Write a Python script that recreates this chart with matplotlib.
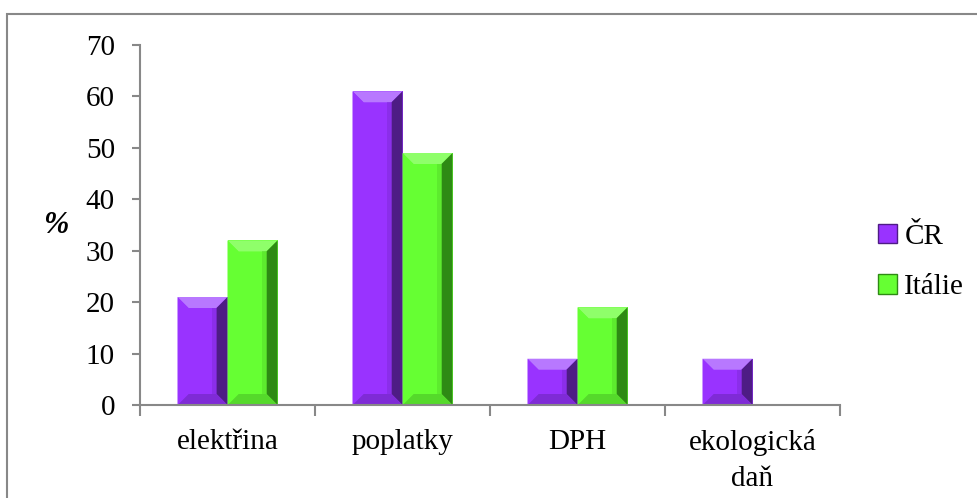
import matplotlib
matplotlib.use("Agg")
import matplotlib.pyplot as plt
from matplotlib.patches import Polygon, Patch, Rectangle
import numpy as np

categories = ["elektřina", "poplatky", "DPH", "ekologická\ndaň"]
series_names = ["ČR", "Itálie"]
cr_values = [21, 61, 9, 9]
italie_values = [32, 49, 19, 0]
yticks = [0, 10, 20, 30, 40, 50, 60, 70]

face = {"ČR": "#9933FF", "Itálie": "#66FF33"}
light = {"ČR": "#B878FF", "Itálie": "#8FFF6A"}
dark = {"ČR": "#4E1C85", "Itálie": "#2E8A14"}
mid = {"ČR": "#7F2BD6", "Itálie": "#55D92B"}

plt.rcParams['font.family'] = ['Liberation Serif', 'DejaVu Serif']

fig = plt.figure(figsize=(9.77, 4.98), dpi=100)
ax = fig.add_axes([140/977, 1-405/498, 700/977, 360/498])

x = np.arange(len(categories))
w = 50/175
bars_cr = ax.bar(x - w/2, cr_values, w, color=face["ČR"], linewidth=0, zorder=2)
bars_it = ax.bar(x + w/2, italie_values, w, color=face["Itálie"], linewidth=0, zorder=2)

ax.set_xlim(-0.5, len(categories) - 0.5)
ax.set_ylim(0, 70)
ax.set_yticks(yticks)
ax.set_yticklabels([str(v) for v in yticks], fontsize=21)
ax.set_xticks(x)
ax.set_xticklabels(categories, fontsize=21, linespacing=1.5, va='top')
ax.set_xticks(np.arange(len(categories) + 1) - 0.5, minor=True)
ax.tick_params(axis='x', which='major', length=0, pad=17)
ax.tick_params(axis='x', which='minor', length=8, color='#888888', width=1.5, direction='out')
ax.tick_params(axis='y', length=6, color='#888888', width=1.5, direction='out', pad=12)
for s in ['top', 'right']:
    ax.spines[s].set_visible(False)
for s in ['left', 'bottom']:
    ax.spines[s].set_color('#888888')
    ax.spines[s].set_linewidth(1.5)
ax.spines['bottom'].set_zorder(5)

ax.set_ylabel('%', fontsize=22, fontweight='bold', fontstyle='italic', rotation=0, labelpad=22, va='center')

fig.canvas.draw()
inv = ax.transData.inverted()

def bevel(rect, name):
    (x0, y0), (x1, y1) = ax.transData.transform([(rect.get_x(), rect.get_y()),
                                                  (rect.get_x() + rect.get_width(), rect.get_y() + rect.get_height())])
    if y1 - y0 < 2:
        return
    b = min(11, (y1 - y0) / 3, (x1 - x0) / 3)
    polys = [
        ([(x0, y1), (x1, y1), (x1 - b, y1 - b), (x0 + b, y1 - b)], light[name]),
        ([(x1, y1), (x1, y0), (x1 - b, y0 + b), (x1 - b, y1 - b)], dark[name]),
        ([(x0, y0), (x1, y0), (x1 - b, y0 + b), (x0 + b, y0 + b)], mid[name]),
        ([(x0, y0), (x0, y1), (x0 + b, y1 - b), (x0 + b, y0 + b)], face[name]),
    ]
    for pts, c in polys:
        ax.add_patch(Polygon(inv.transform(pts), closed=True, facecolor=c, edgecolor='none', zorder=3))
    strip = [(x1 - b - 5, y1 - b), (x1 - b, y1 - b), (x1 - b, y0 + b), (x1 - b - 5, y0 + b)]
    ax.add_patch(Polygon(inv.transform(strip), closed=True, facecolor=mid[name], edgecolor='none', alpha=0.5, zorder=3))

for r in bars_cr:
    bevel(r, "ČR")
for r in bars_it:
    bevel(r, "Itálie")

handles = [Patch(facecolor=face[n], edgecolor=dark[n], linewidth=1) for n in series_names]
fig.legend(handles, series_names, loc='center left', bbox_to_anchor=(878/977, 1-262/498),
           frameon=False, fontsize=21, handlelength=0.65, handleheight=0.65, borderpad=0,
           borderaxespad=0, handletextpad=0.25, labelspacing=0.85)

fig.add_artist(Rectangle((7/977, -0.1), 1.2, 1 - 14/498 + 0.1, transform=fig.transFigure,
                         fill=False, edgecolor='#888888', linewidth=1.5))

fig.savefig("out.png", dpi=100)
